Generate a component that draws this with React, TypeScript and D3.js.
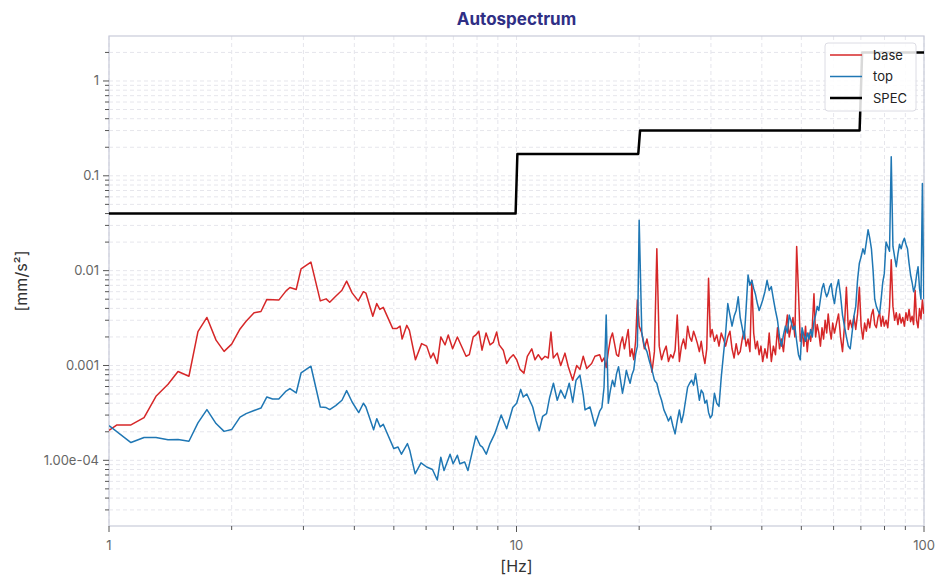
import * as d3 from "d3";
import React, { useEffect, useRef } from "react";

type Pt = [number, number];

// [Hz, mm/s²], 1 – 16 Hz
const baseLow: Pt[] = [
  [1.0, 2.07e-4], [1.046, 2.36e-4], [1.132, 2.36e-4], [1.219, 2.82e-4], [1.304, 4.73e-4],
  [1.396, 6.34e-4], [1.477, 8.63e-4], [1.571, 7.7e-4], [1.653, 2.28e-3], [1.739, 3.21e-3],
  [1.831, 1.85e-3], [1.916, 1.41e-3], [2.0, 1.68e-3], [2.097, 2.43e-3], [2.17, 2.93e-3],
  [2.27, 3.59e-3], [2.36, 3.71e-3], [2.44, 4.97e-3], [2.61, 4.89e-3], [2.72, 6.12e-3],
  [2.78, 6.65e-3], [2.88, 6.33e-3], [2.96, 1.045e-2], [3.13, 1.23e-2], [3.3, 4.8e-3],
  [3.41, 5.04e-3], [3.48, 4.65e-3], [3.6, 5.38e-3], [3.73, 6.22e-3], [3.83, 7.75e-3],
  [3.95, 5.83e-3], [4.09, 4.8e-3], [4.21, 6.0e-3], [4.27, 5.8e-3], [4.44, 3.3e-3],
  [4.54, 4.5e-3], [4.62, 3.9e-3], [4.71, 4.1e-3], [4.97, 2.45e-3], [5.08, 2.45e-3],
  [5.18, 2.6e-3], [5.24, 1.9e-3], [5.38, 2.65e-3], [5.46, 2.35e-3], [5.65, 1.15e-3],
  [5.85, 1.7e-3], [6.02, 1.6e-3], [6.16, 1.2e-3], [6.25, 1.35e-3], [6.39, 1.05e-3],
  [6.52, 2.0e-3], [6.68, 1.65e-3], [6.8, 2.1e-3], [6.97, 1.5e-3], [7.16, 2.0e-3],
  [7.52, 1.25e-3], [7.66, 1.3e-3], [7.83, 2.0e-3], [7.95, 2.1e-3], [8.08, 2.3e-3],
  [8.23, 1.45e-3], [8.42, 2.2e-3], [8.61, 1.65e-3], [8.77, 1.75e-3], [8.94, 2.25e-3],
  [9.07, 1.65e-3], [9.28, 1.45e-3], [9.46, 1.05e-3], [9.64, 1.2e-3], [9.82, 1.3e-3],
  [10.01, 1.15e-3], [10.2, 9.1e-4], [10.43, 8.3e-4], [10.63, 1.25e-3], [10.9, 1.5e-3],
  [11.1, 1.15e-3], [11.31, 1.3e-3], [11.53, 1.15e-3], [11.75, 1.25e-3], [11.97, 1.2e-3],
  [12.15, 2.25e-3], [12.31, 1.2e-3], [12.59, 1.35e-3], [12.84, 1.0e-3], [13.15, 1.35e-3],
  [13.4, 9.7e-4], [13.74, 7.0e-4], [14.05, 1.0e-3], [14.31, 9.1e-4], [14.58, 1.25e-3],
  [14.87, 9.3e-4], [15.29, 1.05e-3], [15.58, 1.25e-3],
];

const topLow: Pt[] = [
  [1.0, 2.32e-4], [1.132, 1.54e-4], [1.219, 1.74e-4], [1.304, 1.74e-4], [1.396, 1.65e-4],
  [1.477, 1.66e-4], [1.571, 1.59e-4], [1.653, 2.48e-4], [1.739, 3.43e-4], [1.831, 2.44e-4],
  [1.916, 2.02e-4], [2.0, 2.11e-4], [2.097, 2.86e-4], [2.17, 3.11e-4], [2.27, 3.35e-4],
  [2.36, 3.56e-4], [2.44, 4.66e-4], [2.52, 4.44e-4], [2.61, 4.44e-4], [2.72, 5.38e-4],
  [2.78, 5.71e-4], [2.88, 5.13e-4], [2.96, 8.34e-4], [3.13, 9.82e-4], [3.3, 3.65e-4],
  [3.41, 3.6e-4], [3.48, 3.43e-4], [3.6, 3.78e-4], [3.73, 4.3e-4], [3.83, 5.44e-4],
  [3.95, 4.12e-4], [4.1, 3.19e-4], [4.21, 4.0e-4], [4.27, 3.65e-4], [4.46, 2.1e-4],
  [4.54, 2.75e-4], [4.63, 2.25e-4], [4.71, 2.4e-4], [5.0, 1.33e-4], [5.12, 1.38e-4],
  [5.22, 1.16e-4], [5.4, 1.5e-4], [5.47, 1.28e-4], [5.64, 7.2e-5], [5.83, 9.4e-5],
  [6.02, 8.5e-5], [6.22, 8.0e-5], [6.39, 6.2e-5], [6.52, 1.08e-4], [6.64, 7.8e-5],
  [6.87, 1.16e-4], [6.99, 9.2e-5], [7.16, 1.13e-4], [7.26, 9.2e-5], [7.46, 9.6e-5],
  [7.6, 7.8e-5], [7.95, 1.8e-4], [8.14, 1.44e-4], [8.25, 1.38e-4], [8.43, 1.16e-4],
  [8.61, 1.5e-4], [8.84, 1.9e-4], [9.17, 3.0e-4], [9.46, 2.15e-4], [9.79, 3.6e-4],
  [10.01, 4.0e-4], [10.24, 5.6e-4], [10.39, 4.65e-4], [10.6, 5.0e-4], [10.96, 3.65e-4],
  [11.16, 2.65e-4], [11.37, 2.05e-4], [11.59, 2.9e-4], [11.85, 3.1e-4], [12.06, 4.6e-4],
  [12.32, 6.5e-4], [12.59, 4.3e-4], [12.84, 5.5e-4], [13.15, 4.5e-4], [13.47, 6.5e-4],
  [13.74, 4.1e-4], [14.0, 7.0e-4], [14.31, 7.9e-4], [14.58, 4.9e-4], [14.73, 3.4e-4],
  [15.15, 3.65e-4], [15.58, 2.3e-4],
];

// 16 – 100 Hz, denser sampling where the traces are noisy
const hiFreq = [
  16.0, 16.2, 16.4, 16.6, 16.8, 17.0, 17.2, 17.4, 17.6, 17.8,
  18.0, 18.2, 18.4, 18.6, 18.8, 19.0, 19.2, 19.4, 19.6, 19.8,
  20.0, 20.3, 20.6, 20.9, 21.2, 21.5, 21.8, 22.1, 22.4, 22.7,
  23.0, 23.3, 23.6, 23.9, 24.2, 24.5, 24.8, 25.1, 25.4, 25.7,
  26.0, 26.3, 26.6, 26.9, 27.2, 27.5, 27.8, 28.1, 28.4, 28.7,
  29.0, 29.3, 29.6, 29.9,
  30.2, 30.6, 31.0, 31.4, 31.8, 32.2, 32.6, 33.0, 33.4, 33.8,
  34.2, 34.6, 35.0, 35.4, 35.8, 36.2, 36.6, 37.0, 37.4, 37.8,
  38.2, 38.6, 39.0, 39.4, 39.8,
  40.2, 40.7, 41.2, 41.7, 42.2, 42.7, 43.2, 43.7, 44.2, 44.7,
  45.2, 45.7, 46.2, 46.7, 47.2, 47.7, 48.2, 48.7, 49.2, 49.7,
  50.2, 50.7, 51.2, 51.7, 52.2, 52.7, 53.2, 53.7, 54.2, 54.7,
  55.2, 55.7, 56.2, 56.7, 57.2, 57.7, 58.2, 58.7, 59.2, 59.7,
  60.3, 61.0, 61.7, 62.4, 63.1, 63.8, 64.5, 65.2, 65.9, 66.6,
  67.3, 68.0, 68.7, 69.4, 70.1, 70.8, 71.5, 72.2, 72.9, 73.6,
  74.3, 75.0, 75.7, 76.4, 77.1, 77.8, 78.5, 79.2, 79.9,
  80.7, 81.5, 82.3, 83.1, 83.9, 84.7, 85.5, 86.3, 87.1, 87.9,
  88.7, 89.5, 90.3, 91.1, 91.9, 92.7, 93.5, 94.3, 95.1, 95.9,
  96.7, 97.5, 98.3, 99.1, 99.9,
];

const baseHi = [
  1.3e-3, 1.1e-3, 1.2e-3, 9.5e-4, 1.4e-3, 1.9e-3, 2.2e-3, 1.7e-3, 1.3e-3, 1.25e-3,
  1.7e-3, 2.0e-3, 1.5e-3, 1.9e-3, 2.4e-3, 1.25e-3, 1.5e-3, 1.15e-3, 1.8e-3, 4.9e-3,
  2.6e-3, 2.2e-3, 1.5e-3, 1.9e-3, 1.4e-3, 8.5e-4, 1.4e-3, 1.7e-2, 1.6e-3, 1.15e-3,
  1.4e-3, 1.6e-3, 1.1e-3, 1.3e-3, 1.2e-3, 1.45e-3, 3.4e-3, 1.1e-3, 1.6e-3, 1.9e-3,
  1.5e-3, 2.6e-3, 2.0e-3, 1.8e-3, 2.3e-3, 2.0e-3, 1.7e-3, 1.4e-3, 1.8e-3, 1.3e-3,
  1.05e-3, 1.5e-3, 8.3e-3, 2.0e-3,
  2.4e-3, 1.8e-3, 2.1e-3, 1.6e-3, 2.2e-3, 1.9e-3, 1.6e-3, 2.0e-3, 2.3e-3, 1.5e-3,
  1.2e-3, 1.7e-3, 1.3e-3, 1.4e-3, 1.9e-3, 2.3e-3, 1.6e-3, 1.9e-3, 1.4e-3, 7.9e-3,
  2.2e-3, 1.5e-3, 1.8e-3, 1.3e-3, 1.6e-3,
  1.1e-3, 1.5e-3, 1.2e-3, 2.2e-3, 1.1e-3, 1.6e-3, 1.3e-3, 2.5e-3, 1.5e-3, 1.9e-3,
  1.4e-3, 2.3e-3, 3.4e-3, 2.0e-3, 2.6e-3, 3.2e-3, 2.0e-3, 1.8e-2, 6.0e-3, 1.8e-3,
  2.3e-3, 1.6e-3, 2.6e-3, 1.4e-3, 2.2e-3, 1.8e-3, 2.6e-3, 5.7e-3, 2.0e-3, 2.7e-3,
  2.2e-3, 1.6e-3, 2.5e-3, 1.9e-3, 3.0e-3, 2.2e-3, 3.5e-3, 2.4e-3, 1.9e-3, 2.8e-3,
  2.2e-3, 2.8e-3, 3.5e-3, 2.0e-3, 1.4e-3, 2.6e-3, 6.7e-3, 2.4e-3, 3.0e-3, 2.5e-3,
  3.3e-3, 2.4e-3, 3.5e-3, 6.7e-3, 2.6e-3, 1.9e-3, 2.8e-3, 2.3e-3, 3.1e-3, 2.5e-3,
  3.4e-3, 3.9e-3, 2.7e-3, 2.5e-3, 3.2e-3, 3.6e-3, 2.6e-3, 3.3e-3, 2.6e-3,
  3.0e-3, 2.5e-3, 4.1e-3, 1.3e-2, 4.2e-3, 3.0e-3, 3.6e-3, 2.7e-3, 3.5e-3, 2.8e-3,
  3.2e-3, 2.6e-3, 3.6e-3, 3.0e-3, 3.9e-3, 2.9e-3, 3.3e-3, 2.7e-3, 6.2e-3, 3.0e-3,
  2.5e-3, 4.0e-3, 3.1e-3, 4.9e-3, 3.5e-3,
];

const topHi = [
  3.3e-4, 3.6e-4, 5.9e-4, 3.4e-3, 4.0e-4, 5.5e-4, 7.0e-4, 6.0e-4, 8.2e-4, 9.7e-4,
  7.0e-4, 5.1e-4, 6.5e-4, 8.9e-4, 7.5e-4, 6.5e-4, 8.0e-4, 9.0e-4, 1.3e-3, 1.6e-3,
  3.4e-2, 2.2e-3, 1.6e-3, 1.4e-3, 1.1e-3, 9.0e-4, 7.0e-4, 6.5e-4, 5.1e-4, 4.3e-4,
  3.4e-4, 3.0e-4, 2.6e-4, 2.9e-4, 2.3e-4, 1.9e-4, 2.6e-4, 3.4e-4, 2.5e-4, 3.1e-4,
  4.3e-4, 5.9e-4, 6.5e-4, 7.0e-4, 6.2e-4, 8.2e-4, 6.0e-4, 4.3e-4, 5.5e-4, 5.1e-4,
  4.0e-4, 4.3e-4, 3.2e-4, 2.8e-4,
  3.0e-4, 5.1e-4, 4.0e-4, 3.7e-4, 7.5e-4, 1.3e-3, 2.2e-3, 4.5e-3, 3.4e-3, 2.6e-3,
  3.3e-3, 3.8e-3, 5.3e-3, 3.2e-3, 2.5e-3, 1.9e-3, 4.0e-3, 9.0e-3, 7.0e-3, 7.9e-3,
  6.5e-3, 5.6e-3, 4.5e-3, 3.8e-3, 4.3e-3,
  4.9e-3, 6.0e-3, 7.9e-3, 6.2e-3, 6.8e-3, 5.0e-3, 3.8e-3, 3.0e-3, 2.0e-3, 1.6e-3,
  2.1e-3, 2.6e-3, 2.2e-3, 3.4e-3, 2.9e-3, 2.4e-3, 2.6e-3, 1.8e-3, 1.3e-3, 1.15e-3,
  2.5e-3, 2.1e-3, 1.8e-3, 2.2e-3, 1.9e-3, 2.4e-3, 2.0e-3, 2.9e-3, 3.4e-3, 4.2e-3,
  3.8e-3, 5.0e-3, 6.5e-3, 7.3e-3, 6.0e-3, 5.3e-3, 5.8e-3, 6.8e-3, 7.3e-3, 5.5e-3,
  4.5e-3, 6.5e-3, 8.0e-3, 5.5e-3, 3.4e-3, 2.6e-3, 2.0e-3, 1.6e-3, 1.5e-3, 2.2e-3,
  3.3e-3, 4.2e-3, 8.0e-3, 1.2e-2, 1.4e-2, 1.7e-2, 1.5e-2, 2.0e-2, 2.7e-2, 2.2e-2,
  1.7e-2, 1.0e-2, 5.0e-3, 4.2e-3, 3.8e-3, 3.5e-3, 5.0e-3, 7.5e-3, 9.3e-3,
  2.0e-2, 1.8e-2, 1.6e-2, 0.159, 1.8e-2, 1.4e-2, 1.1e-2, 1.5e-2, 1.9e-2, 1.7e-2,
  2.0e-2, 2.2e-2, 1.9e-2, 1.7e-2, 1.2e-2, 9.0e-3, 7.5e-3, 6.0e-3, 6.8e-3, 9.0e-3,
  1.1e-2, 6.5e-3, 5.0e-3, 8.3e-2, 5.0e-3,
];

const spec: Pt[] = [
  [1, 0.04], [9.95, 0.04], [10.05, 0.17], [19.9, 0.17], [20.1, 0.3],
  [69.5, 0.3], [70.5, 2.0], [100, 2.0],
];

const yMajor = [1e-4, 1e-3, 1e-2, 0.1, 1];
const yTickLabels = ["1.00e-04", "0.001", "0.01", "0.1", "1"];
const xMajor = [1, 10, 100];
const xTickLabels = ["1", "10", "100"];

const joinHi = (low: Pt[], hi: number[]): Pt[] => [
  ...low,
  ...hiFreq
    .map((f, i) => [f, hi[i]] as Pt)
    .filter((d) => d[1] !== undefined),
];

const base = joinHi(baseLow, baseHi);
const top = joinHi(topLow, topHi);

const seriesList = [
  { name: "base", data: base, color: "#d62728", width: 1.5 },
  { name: "top", data: top, color: "#1f77b4", width: 1.5 },
  { name: "SPEC", data: spec, color: "#000000", width: 2.5 },
];

const width = 947;
const height = 587;
const margin = { top: 36, right: 23, bottom: 61, left: 109 };
const font = "Inter, 'Noto Sans', sans-serif";

const App: React.FC = () => {
  const ref = useRef<SVGSVGElement | null>(null);

  useEffect(() => {
    if (!ref.current) return;
    const svg = d3.select(ref.current);
    svg.selectAll("*").remove();

    const x = d3
      .scaleLog()
      .domain([1, 100])
      .range([margin.left, width - margin.right]);
    const y = d3
      .scaleLog()
      .domain([2.03e-5, 2.98])
      .range([height - margin.bottom, margin.top]);

    const [x0, x1] = x.range();
    const [y0, y1] = y.range();

    // minor ticks: 2..9 of each decade
    const xMinor: number[] = [];
    [1, 10].forEach((d) => {
      for (let k = 2; k <= 9; k++) xMinor.push(d * k);
    });
    const yMinor: number[] = [];
    [1e-5, 1e-4, 1e-3, 1e-2, 0.1, 1].forEach((d) => {
      for (let k = 2; k <= 9; k++) {
        const v = d * k;
        if (v >= y.domain()[0] && v <= y.domain()[1]) yMinor.push(v);
      }
    });

    // grid
    const grid = svg.append("g");
    [...xMajor, ...xMinor].forEach((v) => {
      grid
        .append("line")
        .attr("x1", x(v))
        .attr("x2", x(v))
        .attr("y1", y1)
        .attr("y2", y0)
        .attr("stroke", "#e6e6ec")
        .attr("stroke-dasharray", "4,3");
    });
    [...yMajor, ...yMinor].forEach((v) => {
      grid
        .append("line")
        .attr("x1", x0)
        .attr("x2", x1)
        .attr("y1", y(v))
        .attr("y2", y(v))
        .attr("stroke", "#e6e6ec")
        .attr("stroke-dasharray", "4,3");
    });

    // frame
    svg
      .append("rect")
      .attr("x", x0)
      .attr("y", y1)
      .attr("width", x1 - x0)
      .attr("height", y0 - y1)
      .attr("fill", "none")
      .attr("stroke", "#c9cbd9")
      .attr("stroke-width", 1.2);

    // ticks
    const ticks = svg.append("g").attr("stroke", "#555").attr("stroke-width", 1);
    xMajor.forEach((v) =>
      ticks.append("line").attr("x1", x(v)).attr("x2", x(v)).attr("y1", y0).attr("y2", y0 + 6)
    );
    xMinor.forEach((v) =>
      ticks.append("line").attr("x1", x(v)).attr("x2", x(v)).attr("y1", y0).attr("y2", y0 + 4)
    );
    yMajor.forEach((v) =>
      ticks.append("line").attr("x1", x0 - 6).attr("x2", x0).attr("y1", y(v)).attr("y2", y(v))
    );
    yMinor.forEach((v) =>
      ticks.append("line").attr("x1", x0 - 4).attr("x2", x0).attr("y1", y(v)).attr("y2", y(v))
    );

    const labels = svg
      .append("g")
      .attr("font-family", font)
      .attr("font-size", 13)
      .attr("fill", "#666");
    xMajor.forEach((v, i) =>
      labels
        .append("text")
        .attr("x", x(v))
        .attr("y", y0 + 24)
        .attr("text-anchor", "middle")
        .text(xTickLabels[i])
    );
    yMajor.forEach((v, i) =>
      labels
        .append("text")
        .attr("x", x0 - 10)
        .attr("y", y(v) + 4.5)
        .attr("text-anchor", "end")
        .text(yTickLabels[i])
    );

    // series
    svg
      .append("clipPath")
      .attr("id", "plotclip")
      .append("rect")
      .attr("x", x0)
      .attr("y", y1)
      .attr("width", x1 - x0)
      .attr("height", y0 - y1);

    const line = d3
      .line<Pt>()
      .x((d) => x(d[0]))
      .y((d) => y(d[1]));

    seriesList.forEach((s) => {
      svg
        .append("path")
        .datum(s.data)
        .attr("clip-path", "url(#plotclip)")
        .attr("fill", "none")
        .attr("stroke", s.color)
        .attr("stroke-width", s.width)
        .attr("stroke-linejoin", "round")
        .attr("d", line);
    });

    // legend
    const lg = svg.append("g").attr("transform", "translate(825,43)");
    lg.append("rect")
      .attr("width", 91)
      .attr("height", 68)
      .attr("rx", 3)
      .attr("fill", "#fff")
      .attr("fill-opacity", 0.85)
      .attr("stroke", "#dcdce4");
    seriesList.forEach((s, i) => {
      const yy = 12 + i * 21.5;
      lg.append("line")
        .attr("x1", 5)
        .attr("x2", 37)
        .attr("y1", yy)
        .attr("y2", yy)
        .attr("stroke", s.color)
        .attr("stroke-width", s.width);
      lg.append("text")
        .attr("x", 48)
        .attr("y", yy + 4.5)
        .attr("font-family", font)
        .attr("font-size", 13)
        .attr("fill", "#222")
        .text(s.name);
    });

    // titles
    svg
      .append("text")
      .attr("x", (x0 + x1) / 2)
      .attr("y", 25)
      .attr("text-anchor", "middle")
      .attr("font-family", font)
      .attr("font-size", 17)
      .attr("font-weight", "bold")
      .attr("fill", "#2f2f85")
      .text("Autospectrum");
    svg
      .append("text")
      .attr("x", (x0 + x1) / 2)
      .attr("y", 572)
      .attr("text-anchor", "middle")
      .attr("font-family", font)
      .attr("font-size", 16)
      .attr("fill", "#333")
      .text("[Hz]");
    svg
      .append("text")
      .attr("transform", `translate(27,${(y0 + y1) / 2}) rotate(-90)`)
      .attr("text-anchor", "middle")
      .attr("font-family", font)
      .attr("font-size", 16)
      .attr("fill", "#333")
      .text("[mm/s²]");
  }, []);

  return (
    <svg
      ref={ref}
      width={width}
      height={height}
      style={{ position: "absolute", left: 0, top: 0, background: "#fff" }}
    />
  );
};

export default App;
